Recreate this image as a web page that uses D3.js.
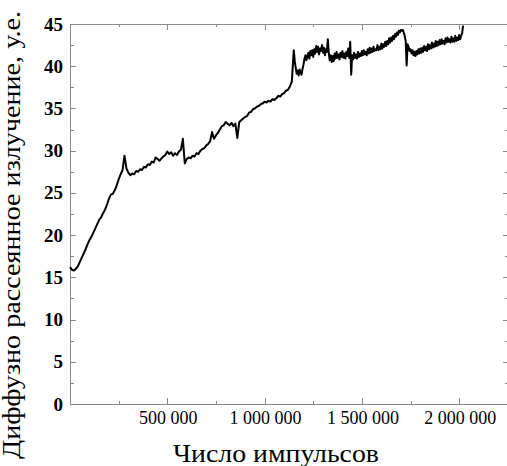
<!DOCTYPE html>
<html>
<head>
  <meta charset="UTF-8">
  <script src="https://d3js.org/d3.v7.min.js"></script>
  <style>
    body { margin: 0; overflow: hidden; background: #fff; }
    svg { display: block; }
  </style>
</head>
<body>
  <svg id="chart" width="507" height="466"></svg>

  <script>
    // pulse count, thousands
    const pulsesK = [
      0, 10, 20, 30, 40, 50, 60, 70, 80, 90,
      100, 110, 120, 130, 140, 150, 160, 170, 180, 190,
      200, 210, 220, 230, 240, 250, 260, 270, 280, 290,
      300, 310, 320, 330, 340, 350, 360, 370, 380, 390,
      400, 410, 420, 430, 440, 450, 460, 470, 480, 490,
      500, 510, 520, 530, 540, 550, 560, 570, 580, 590,
      600, 610, 620, 630, 640, 650, 660, 670, 680, 690,
      700, 710, 720, 730, 740, 750, 760, 770, 780, 790,
      800, 810, 820, 830, 840, 850, 860, 870, 880, 890,
      900, 910, 920, 930, 940, 950, 960, 970, 980, 990,
      1000, 1010, 1020, 1030, 1040, 1050, 1060, 1070, 1080, 1090,
      1100, 1110, 1120, 1130, 1140,
      1150, 1155, 1160, 1165, 1170, 1175, 1180, 1185, 1190, 1195,
      1200, 1205, 1210, 1215, 1220, 1225, 1230, 1235, 1240, 1245,
      1250, 1255, 1260, 1265, 1270, 1275, 1280, 1285, 1290, 1295,
      1300, 1305, 1310, 1315, 1320, 1325, 1330, 1335, 1340, 1345,
      1350, 1355, 1360, 1365, 1370, 1375, 1380, 1385, 1390, 1395,
      1400, 1405, 1410, 1415, 1420, 1425, 1430, 1435, 1440, 1445,
      1450, 1455, 1460, 1465, 1470, 1475, 1480, 1485, 1490, 1495,
      1500, 1505, 1510, 1515, 1520, 1525, 1530, 1535, 1540, 1545,
      1550, 1555, 1560, 1565, 1570, 1575, 1580, 1585, 1590, 1595,
      1600, 1605, 1610, 1615, 1620, 1625, 1630, 1635, 1640, 1645,
      1650, 1655, 1660, 1665, 1670, 1675, 1680, 1685, 1690, 1695,
      1700, 1705, 1710, 1715, 1720, 1725, 1730, 1735, 1740, 1745,
      1750, 1755, 1760, 1765, 1770, 1775, 1780, 1785, 1790, 1795,
      1800, 1805, 1810, 1815, 1820, 1825, 1830, 1835, 1840, 1845,
      1850, 1855, 1860, 1865, 1870, 1875, 1880, 1885, 1890, 1895,
      1900, 1905, 1910, 1915, 1920, 1925, 1930, 1935, 1940, 1945,
      1950, 1955, 1960, 1965, 1970, 1975, 1980, 1985, 1990, 1995,
      2000, 2005, 2010, 2015, 2020
    ];

    // diffuse scattered radiation, a.u.
    const signal = [
      16.2, 15.9, 15.8, 16.0, 16.3, 16.8, 17.3, 17.8, 18.3, 18.9,
      19.4, 19.8, 20.3, 20.8, 21.3, 21.8, 22.1, 22.6, 23.0, 23.6,
      24.3, 24.8, 24.9, 25.3, 25.9, 26.6, 27.2, 27.7, 29.4, 27.9,
      27.4, 27.1, 27.3, 27.2, 27.6, 27.5, 27.8, 27.7, 28.1, 28.0,
      28.4, 28.3, 28.7, 28.6, 29.2, 29.0, 28.8, 29.1, 29.3, 29.5,
      29.9, 29.6, 29.8, 29.4, 29.7, 29.5, 29.9, 30.1, 31.4, 28.5,
      29.0, 29.2, 29.1, 29.4, 29.3, 29.7, 29.6, 30.0, 30.2, 30.3,
      30.6, 30.8, 31.1, 32.2, 31.4, 31.8, 32.1, 32.5, 32.9, 33.0,
      33.4, 33.2, 33.0, 33.3, 32.9, 33.2, 31.5, 33.4, 33.6, 33.8,
      34.0, 34.1, 34.5, 34.6, 34.9, 35.0, 35.2, 35.3, 35.5, 35.6,
      35.8, 35.7, 35.9, 35.8, 36.1, 36.0, 36.2, 36.5, 36.4, 36.7,
      36.8, 37.1, 37.2, 37.6, 38.2,
      41.9, 40.6, 39.8, 39.1, 39.5, 38.9, 39.6, 39.2, 39.0, 39.7,
      40.2, 40.9, 41.3, 40.7, 41.2, 41.6, 40.9, 41.8, 41.3, 41.9,
      41.1, 42.0, 41.5, 42.4, 41.7, 42.3, 41.4, 42.1, 41.8, 42.5,
      41.6, 42.2, 41.3, 42.0, 41.7, 43.2, 41.5, 40.7, 41.3, 40.5,
      41.2, 40.6, 41.5, 40.9, 41.7, 41.0, 41.4, 40.8, 41.6, 41.1,
      41.8, 41.0, 41.5, 40.9, 41.7, 41.2, 42.1, 41.0, 42.9, 39.0,
      41.3, 40.8, 41.6, 41.0, 41.4, 40.9, 41.7, 41.1, 41.5, 41.2,
      41.8, 41.3, 41.9, 41.4, 41.7, 41.3, 42.0, 41.5, 42.2, 41.6,
      42.1, 41.7, 42.3, 41.8, 42.0, 41.9, 42.5, 41.9, 42.3, 42.0,
      42.7, 42.1, 42.6, 42.3, 42.9, 42.4, 43.0, 42.6, 43.3, 42.8,
      43.4, 43.0, 43.6, 43.2, 43.8, 43.5, 44.0, 43.7, 44.2, 44.0,
      44.3, 44.2, 44.3, 44.0, 43.6, 43.0, 40.1, 42.6, 42.3, 41.8,
      42.0, 41.5, 41.9, 41.3, 41.7, 41.2, 41.8, 41.4, 42.0, 41.5,
      42.1, 41.6, 42.2, 41.7, 42.4, 41.9, 42.3, 41.8, 42.6, 42.0,
      42.5, 42.1, 42.8, 42.2, 42.7, 42.3, 43.0, 42.4, 42.9, 42.5,
      43.1, 42.6, 43.2, 42.7, 43.0, 42.6, 43.3, 42.8, 43.4, 42.9,
      43.2, 42.8, 43.5, 42.9, 43.3, 42.9, 43.6, 43.0, 43.4, 43.1,
      43.7, 43.2, 43.6, 43.9, 44.8
    ];

    const xMajor = [500000, 1000000, 1500000, 2000000];
    const xMinor = [250000, 750000, 1250000, 1750000];
    const yMajor = [0, 5, 10, 15, 20, 25, 30, 35, 40, 45];
    const yMinor = [2.5, 7.5, 12.5, 17.5, 22.5, 27.5, 32.5, 37.5, 42.5];

    const xTitle = "Число импульсов";
    const yTitle = "Диффузно рассеянное излучение, у.е.";

    const plotL = 70, plotT = 24, plotR = 509, plotB = 404;
    const frameColor = "#8a8a8a";
    const fontName = "'Liberation Serif', 'Times New Roman', serif";

    const svg = d3.select("#chart");

    const x = d3.scaleLinear().domain([0, 2256000]).range([plotL, plotR]);
    const y = d3.scaleLinear().domain([0, 45]).range([plotB, plotT]);

    const fmt = v => d3.format(",")(v).replace(/,/g, " ");

    // serif text, set inline so nothing else can override it
    function serifText(sel, size, weight) {
      return sel
        .style("font-family", fontName, "important")
        .style("font-size", size + "px", "important")
        .style("font-weight", weight || "normal", "important")
        .style("fill", "#000");
    }

    // frame
    svg.append("rect")
      .attr("x", plotL + 0.5).attr("y", plotT + 0.5)
      .attr("width", plotR - plotL).attr("height", plotB - plotT)
      .attr("fill", "none")
      .attr("stroke", frameColor)
      .attr("stroke-width", 1);

    // inward ticks on all four sides
    const tickG = svg.append("g").attr("stroke", frameColor).attr("stroke-width", 1);
    const xt = xMajor.map(v => ({ v, len: 6 })).concat(xMinor.map(v => ({ v, len: 3 })));
    xt.forEach(t => {
      const px = Math.round(x(t.v)) + 0.5;
      tickG.append("line").attr("x1", px).attr("x2", px).attr("y1", plotB).attr("y2", plotB - t.len);
      tickG.append("line").attr("x1", px).attr("x2", px).attr("y1", plotT).attr("y2", plotT + t.len);
    });
    const yt = yMajor.map(v => ({ v, len: 6 })).concat(yMinor.map(v => ({ v, len: 4 })));
    yt.forEach(t => {
      const py = Math.round(y(t.v)) + 0.5;
      tickG.append("line").attr("x1", plotL).attr("x2", plotL + t.len).attr("y1", py).attr("y2", py);
      tickG.append("line").attr("x1", plotR).attr("x2", plotR - t.len).attr("y1", py).attr("y2", py);
    });

    // tick labels
    svg.append("g")
      .selectAll("text")
      .data(xMajor)
      .join("text")
      .attr("x", d => x(d) + 1)
      .attr("y", 424)
      .attr("text-anchor", "middle")
      .call(serifText, 18)
      .text(d => fmt(d));

    svg.append("g")
      .selectAll("text")
      .data(yMajor)
      .join("text")
      .attr("x", 63)
      .attr("y", d => y(d) + 6.5)
      .attr("text-anchor", "end")
      .call(serifText, 19, "bold")
      .text(d => d);

    // axis titles
    svg.append("text")
      .attr("x", 276)
      .attr("y", 462)
      .attr("text-anchor", "middle")
      .attr("textLength", 206)
      .attr("lengthAdjust", "spacingAndGlyphs")
      .call(serifText, 25)
      .text(xTitle);

    svg.append("text")
      .attr("transform", "translate(20,235) rotate(-90)")
      .attr("text-anchor", "middle")
      .attr("textLength", 448)
      .attr("lengthAdjust", "spacingAndGlyphs")
      .call(serifText, 26)
      .text(yTitle);

    // data line
    const points = pulsesK.map((k, i) => [k * 1000, signal[i]]);
    const line = d3.line().x(d => x(d[0])).y(d => y(d[1]));

    svg.append("path")
      .datum(points)
      .attr("d", line)
      .attr("fill", "none")
      .attr("stroke", "#000")
      .attr("stroke-width", 2)
      .attr("stroke-linejoin", "round");
  </script>
</body>
</html>
